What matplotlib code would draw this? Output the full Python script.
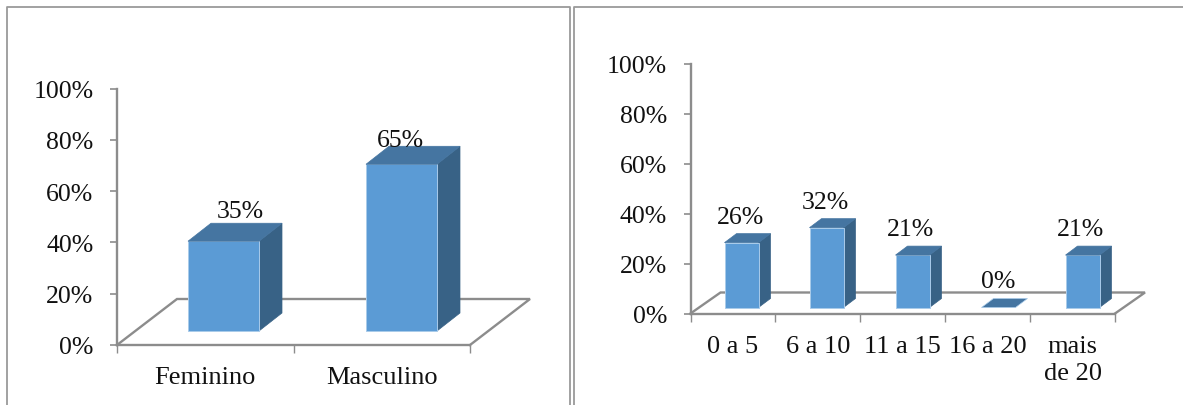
import matplotlib
matplotlib.use("Agg")
import matplotlib.pyplot as plt
from matplotlib.patches import Polygon, Rectangle
from matplotlib.lines import Line2D

plt.rcParams["font.family"] = ["Liberation Serif", "DejaVu Serif"]

# Chart data
sexo_labels = ["Feminino", "Masculino"]
sexo_values = [35, 65]
tempo_labels = ["0 a 5", "6 a 10", "11 a 15", "16 a 20", "mais\nde 20"]
tempo_values = [26, 32, 21, 0, 21]
y_ticks = [0, 20, 40, 60, 80, 100]

W, H = 1183, 406
FRONT = "#5B9BD5"
TOP = "#4575A1"
SIDE = "#386286"
EDGE = "#A9CBEA"
GREY = "#8C8C8C"
TEXT = "#111111"

fig = plt.figure(figsize=(W / 100, H / 100), dpi=100, facecolor="white")


def panel(x0, y_top, x1, y_base, floor_dx, floor_dy, labels, values,
          bar_lo, bar_w, bar_lift, depth_dx, depth_dy, label_gap, label_shift, cat_pad):
    """Pseudo-3D column chart; pixel geometry arguments are converted to data units."""
    ax = fig.add_axes([x0 / W, 1 - y_base / H, (x1 - x0) / W, (y_base - y_top) / H])
    n = len(labels)
    ax.set_xlim(0, n)
    ax.set_ylim(0, 100)
    ax.patch.set_visible(False)
    px = n / (x1 - x0)
    py = 100 / (y_base - y_top)

    fdx, fdy = floor_dx * px, floor_dy * py
    # Floor outline behind the columns
    ax.plot([0, fdx, n + fdx, n], [0, fdy, fdy, 0], color=GREY, lw=1.7,
            clip_on=False, zorder=1, solid_joinstyle="miter")

    base = bar_lift * py
    w = bar_w * px
    dx, dy = depth_dx * px, depth_dy * py
    for i, v in enumerate(values):
        left = bar_lo[i] * px
        top = base + v
        if v > 0:
            ax.add_patch(Polygon([(left + w, base), (left + w + dx, base + dy),
                                  (left + w + dx, top + dy), (left + w, top)],
                                 fc=SIDE, ec=SIDE, lw=0.5, clip_on=False, zorder=2))
            ax.add_patch(Rectangle((left, base), w, v, fc=FRONT, ec=EDGE, lw=0.7,
                                   clip_on=False, zorder=3))
        ax.add_patch(Polygon([(left, top), (left + dx, top + dy),
                              (left + w + dx, top + dy), (left + w, top)],
                             fc=TOP, ec=TOP if v > 0 else EDGE, lw=0.5,
                             clip_on=False, zorder=3))
        ax.annotate(f"{v}%", (left + w / 2, top), xytext=(label_shift[i] * 0.72, label_gap[i] * 0.72),
                    textcoords="offset points", ha="center", va="baseline",
                    fontsize=18.5, color=TEXT, zorder=5, annotation_clip=False)

    for s in ("top", "right"):
        ax.spines[s].set_visible(False)
    for s in ("left", "bottom"):
        ax.spines[s].set_color(GREY)
        ax.spines[s].set_linewidth(1.7)
        ax.spines[s].set_zorder(1)

    ax.set_yticks(y_ticks)
    ax.set_yticklabels([f"{t}%" for t in y_ticks], fontsize=18.5, color=TEXT)
    ax.tick_params(axis="y", length=5, width=1.2, color=GREY, pad=12)

    # Tick marks sit on category boundaries, labels at category centres
    ax.set_xticks(range(n + 1))
    ax.set_xticklabels([])
    ax.set_xticks([i + 0.5 for i in range(n)], minor=True)
    ax.set_xticklabels(labels, minor=True, fontsize=19, color=TEXT, linespacing=1.28)
    ax.tick_params(axis="x", which="major", length=6, width=1.0, color=GREY)
    ax.tick_params(axis="x", which="minor", length=0, pad=cat_pad)
    return ax


panel(117, 89.5, 470, 346, 60, 46, sexo_labels, sexo_values,
      bar_lo=[71, 249], bar_w=71, bar_lift=14, depth_dx=23, depth_dy=18,
      label_gap=[24, 18], label_shift=[17, -1], cat_pad=15)

panel(690.5, 65, 1115, 314.5, 30, 21, tempo_labels, tempo_values,
      bar_lo=[34, 119, 205, 291, 375], bar_w=34, bar_lift=6, depth_dx=12, depth_dy=9,
      label_gap=[20, 20, 20, 20, 20], label_shift=[-1, -1, -2, 0, -2], cat_pad=15.7)

# Panel frames, open at the lower edge of the page
for xs, ys in [((6.5, 6.5, 570, 570), (406, 7.5, 7.5, 406)),
               ((574, 574, 1183), (406, 7.5, 7.5))]:
    fig.add_artist(Line2D([x / W for x in xs], [1 - y / H for y in ys],
                          color="#9A9A9A", lw=1.3, transform=fig.transFigure))

fig.savefig("out.png", dpi=100)
